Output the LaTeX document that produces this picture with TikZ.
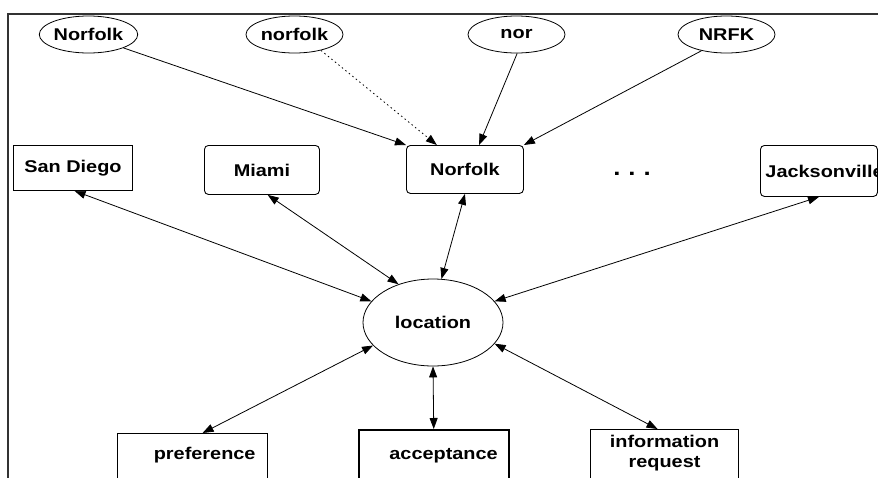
\documentclass[tikz,border=0pt]{standalone}
\usepackage{fontspec}
\setmainfont{Liberation Sans}[FakeStretch=1.17]
\usetikzlibrary{shapes.geometric,arrows.meta}
\begin{document}
\begin{tikzpicture}[x=1pt,y=-1pt,
  every node/.style={font=\fontsize{17}{20}\selectfont\bfseries, text=black},
  oval/.style={draw, ellipse, line width=0.8pt, minimum width=97pt, minimum height=37pt, inner sep=0pt},
  sqbox/.style={draw, rectangle, line width=0.9pt, anchor=north west, inner sep=0pt},
  rbox/.style={sqbox, rounded corners=4pt},
  lowbox/.style={sqbox, line width=1.1pt, inner ysep=0pt},
  link/.style={line width=0.8pt, -{Triangle[length=11pt,width=8pt]}},
  blink/.style={line width=0.8pt, {Triangle[length=11pt,width=8pt]}-{Triangle[length=11pt,width=8pt]}},
  frame/.style={line width=1.8pt, draw=black!80}
]
\useasboundingbox (0,0) rectangle (878,477);
\clip (0,0) rectangle (878,477);
\fill[white] (0,0) rectangle (878,477);

% frame
\draw[frame] (878,14) -- (8,14) -- (8,480);

% top ellipses
\node[oval] (e1) at (88.5,34.5) {Norfolk};
\node[oval] (e2) at (294.5,34.5) {norfolk};
\node[oval] (e3) at (516.5,34.5) {nor};
\node[oval] (e4) at (726.5,34.5) {NRFK};

% city boxes
\node[sqbox, minimum width=119pt, minimum height=45pt] (sd) at (13,145) {San Diego};
\node[rbox, minimum width=115pt, minimum height=49pt] (mi) at (204,145) {Miami};
\node[rbox, minimum width=117pt, minimum height=48pt] (nb) at (406,145) {Norfolk};
\node[rbox, minimum height=51pt, text width=107pt, inner xsep=5pt, align=left] (jx) at (760,145) {\mbox{Jacksonville}};
\node[font=\fontsize{22}{24}\selectfont\bfseries] (dots) at (632,174) {.\hspace{8pt}.\hspace{8pt}.};

% central concept
\node[oval, minimum width=140pt, minimum height=87pt] (loc) at (433,322.5) {location};

% bottom boxes
\node[lowbox, text width=126pt, inner xsep=12pt, align=right, text height=26pt, text depth=34pt] (pref) at (117,433) {preference};
\node[lowbox, line width=1.5pt, text width=128pt, inner xsep=11pt, align=right, text height=30pt, text depth=34pt] (acc) at (358,429) {acceptance};
\node[lowbox, text width=148pt, inner xsep=0pt, align=center, text height=18pt, text depth=40pt] (ir) at (590,429) {information\\request};

% connectors
\draw[link] (e1.-21) -- (nb.north west);
\draw[link, dash pattern=on 1.5pt off 3pt] (e2.-31) -- (nb.139);
\draw[link] (e3.-88) -- (nb.60);
\draw[link] (e4.-147) -- (nb.north east);

\draw[blink] (sd.-86) -- (loc.161);
\draw[blink] (mi.-77) -- (loc.132);
\draw[blink] (nb.south) -- (loc.79);
\draw[blink] (jx.south) -- (loc.19);

\draw[blink] (loc.201) -- ([xshift=10pt]pref.north);
\draw[blink] (loc.south) -- (acc.north);
\draw[blink] (loc.-19) -- ([xshift=-7pt]ir.north);
\end{tikzpicture}
\end{document}
